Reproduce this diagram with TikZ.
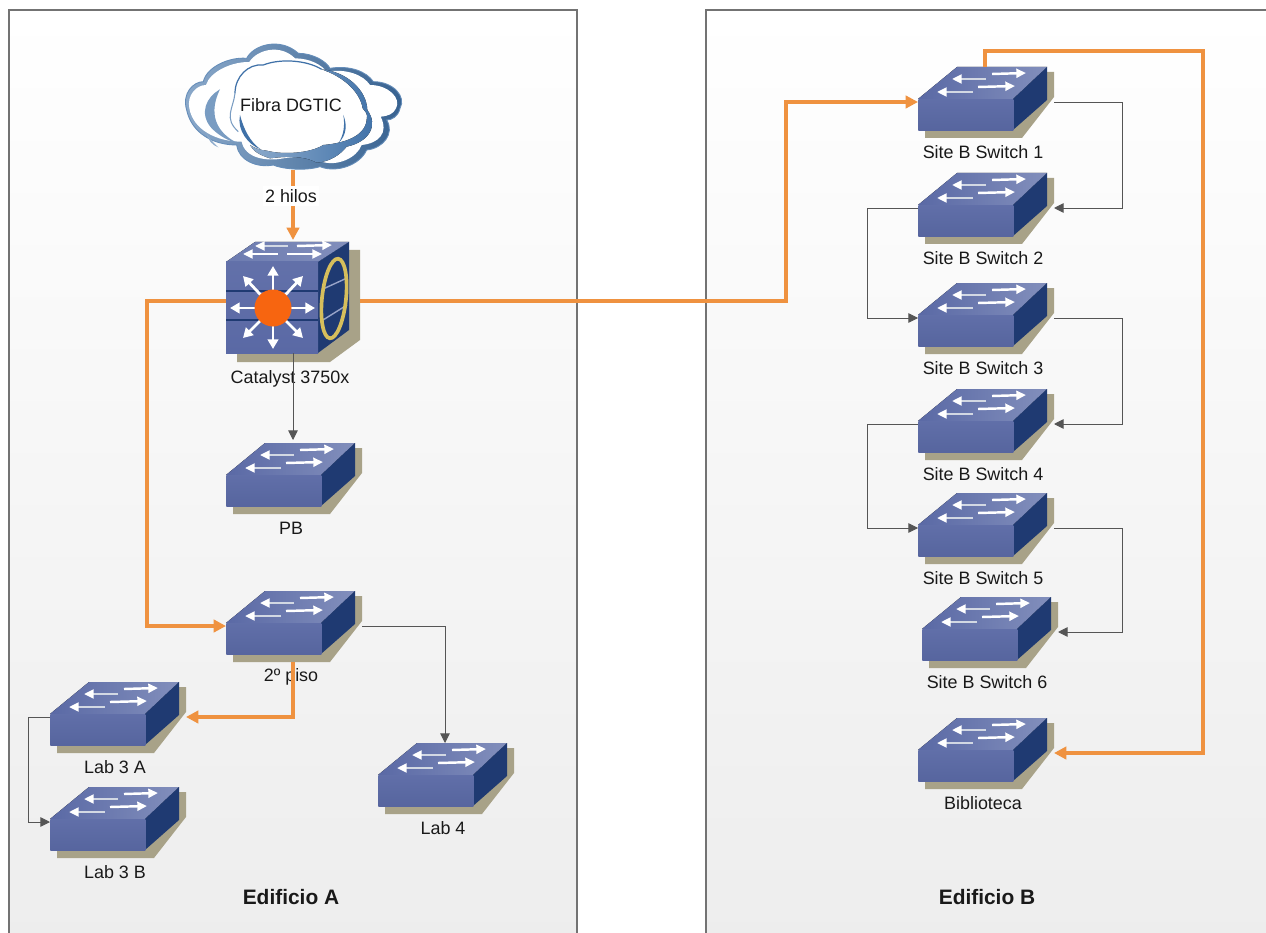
\documentclass[tikz,border=0pt]{standalone}
\usepackage{fontspec}
\setmainfont{Liberation Sans}
\usetikzlibrary{arrows.meta,calc}
\definecolor{swfrontc}{HTML}{5A69A5}
\definecolor{swtopc}{HTML}{6C7BB0}
\definecolor{swsidec}{HTML}{1F3A72}
\definecolor{swshadec}{HTML}{A8A288}
\definecolor{fiberc}{HTML}{EF9240}
\definecolor{copperc}{HTML}{555555}
\definecolor{cloudc}{HTML}{3F71A8}
\tikzset{
  panelbox/.style={draw=black!55,line width=0.6pt,top color=white,bottom color=black!7},
  swlabel/.style={font=\fontsize{10.2}{12}\selectfont,text=black!90},
  fiber/.style={draw=fiberc,line width=1.8pt,-{Triangle[length=7pt,width=7pt]}},
  copper/.style={draw=copperc,line width=0.5pt,-{Triangle[length=5.5pt,width=5.5pt]}},
  swarrow/.style={draw=white,line width=1.4pt,-{Triangle[length=5.5pt,width=5pt]}},
  swarrowb/.style={draw=white!80!swsidec,line width=1.4pt,-{Triangle[length=5.5pt,width=5pt,color=white,fill=white]}},
  hubarrow/.style={draw=white,line width=1.6pt,-{Triangle[length=5.5pt,width=6pt]}},
  swfront/.style={minimum width=95*0.02cm,minimum height=31*0.02cm,anchor=north west,top color=swfrontc!96!white,bottom color=swfrontc!96!black}
}
% one switch: name, left end, label
\newcommand{\switchbox}[4]{
\begin{scope}[shift={(#2,#3)}]
\fill [swshadec] (7,0) -- (7,36) -- (104,36) -- (136,-5) -- (136,-30) -- (120,-30) -- cycle;
\fill [left color=swfrontc,right color=swtopc!85!white] (0,-3) -- (39,-35) -- (129,-35) -- (95,-3) -- cycle;
\fill [swsidec] (129,-35) -- (129,-2) -- (95,28) -- (95,-3) -- cycle;
\node [swfront] (#1) at (0,-3) {};
\coordinate (#1r) at (136,0);
\coordinate (#1t) at (67,-35);
\coordinate (#1b) at (67,36);
\draw [swarrow] (74,-28) -- (108,-29);
\draw [swarrowb] (68,-23) -- (34,-23);
\draw [swarrow] (60,-15) -- (97,-16);
\draw [swarrowb] (55,-10) -- (19,-10);
\node [swlabel] (#1l) at (65,50.5) {#4};
\end{scope}
}
\begin{document}
\begin{tikzpicture}[x=0.02cm,y=-0.02cm]
\tikzstyle{every node}+=[inner sep=0pt]
\useasboundingbox (0,0) rectangle (1266,932);
% panels
\fill [white] (0,0) rectangle (1266,932);
\path [panelbox] (9,10) rectangle (577,940);
\path [panelbox] (706,10) rectangle (1280,940);
% cloud
\begin{scope}[shift={(170,30)},x=0.02cm/3,y=-0.02cm/3]
\path [draw=cloudc!80!white,line width=0.5pt,left color=cloudc!60!white,right color=cloudc!85!black] (50,240) .. controls (35,190) and (70,155) .. (100,155) .. controls (110,110) and (180,80) .. (230,85) .. controls (250,45) and (330,20) .. (385,70) .. controls (430,70) and (470,95) .. (480,115) .. controls (540,105) and (590,125) .. (610,155) .. controls (670,155) and (710,200) .. (690,235) .. controls (685,260) and (665,270) .. (650,270) .. controls (675,310) and (640,355) .. (590,360) .. controls (570,405) and (500,430) .. (450,410) .. controls (400,425) and (330,415) .. (310,405) .. controls (260,415) and (205,390) .. (200,345) .. controls (130,345) and (65,310) .. (50,240) -- cycle;
\fill [white] (58,235) .. controls (50,195) and (80,165) .. (108,165) .. controls (120,125) and (185,95) .. (238,96) .. controls (260,60) and (330,40) .. (375,85) .. controls (420,85) and (455,105) .. (470,125) .. controls (530,115) and (580,135) .. (600,165) .. controls (655,165) and (695,205) .. (678,235) .. controls (670,252) and (655,258) .. (632,260) .. controls (657,310) and (625,340) .. (575,345) .. controls (560,385) and (500,410) .. (455,395) .. controls (440,385) and (400,375) .. (340,385) .. controls (290,395) and (225,385) .. (215,335) .. controls (140,335) and (70,300) .. (58,235) -- cycle;
\fill [left color=cloudc!60!white,right color=cloudc] (455,118) .. controls (530,125) and (590,180) .. (592,240) .. controls (625,285) and (600,335) .. (530,350) .. controls (510,375) and (480,395) .. (440,398) .. controls (400,375) and (340,380) .. (300,385) .. controls (270,375) and (250,365) .. (240,345) .. controls (255,355) and (270,360) .. (290,362) .. controls (340,375) and (420,370) .. (460,345) .. controls (520,340) and (585,320) .. (590,270) .. controls (595,250) and (585,245) .. (578,235) .. controls (570,185) and (520,140) .. (455,118) -- cycle;
\draw [cloudc,line width=0.7pt] (195,190) .. controls (195,140) and (235,100) .. (280,105) .. controls (330,85) and (410,90) .. (455,118);
\draw [cloudc!70!white,line width=0.6pt] (195,190) .. controls (190,235) and (160,265) .. (205,305);
\fill [cloudc!70!white] (150,178) .. controls (110,200) and (85,250) .. (125,295) .. controls (150,320) and (180,335) .. (205,340) .. controls (160,320) and (105,270) .. (150,178) -- cycle;
\fill [cloudc!60!white] (108,308) .. controls (115,330) and (125,345) .. (145,352) .. controls (125,335) and (118,322) .. (108,308) -- cycle;
\fill [cloudc] (210,255) .. controls (200,300) and (235,345) .. (272,358) .. controls (240,335) and (222,300) .. (210,255) -- cycle;
\fill [cloudc] (520,255) .. controls (532,285) and (530,315) .. (505,340) .. controls (522,315) and (525,285) .. (520,255) -- cycle;
\end{scope}
\node [swlabel] (cloud) at (291,105) {Fibra DGTIC};
\coordinate (cloudout) at (293,170);
% core
\fill [swshadec] (237,340) -- (237,362) -- (330,362) -- (360,340) -- (360,250) -- (340,250) -- cycle;
\fill [left color=swtopc,right color=swtopc!85!white] (226,262) -- (255,242) -- (349,242) -- (318,262) -- cycle;
\fill [swsidec] (349,242) -- (349,330) -- (318,353) -- (318,262) -- cycle;
\node [minimum width=92*0.02cm,minimum height=91*0.02cm,top color=swfrontc!95!white,bottom color=swfrontc] (core) at (272,307.5) {};
\coordinate (corer) at (360,301);
\coordinate (corel) at (226,301);
\coordinate (coret) at (293,240);
\coordinate (coreb) at (293,353);
\draw [swsidec,line width=1.2pt] (226,291) -- (318,291);
\draw [swsidec,line width=1.2pt] (226,320) -- (318,320);
\draw [swtopc!70!white,line width=0.8pt] (323,289) -- (347,278);
\draw [swtopc!70!white,line width=0.8pt] (323,320) -- (347,305);
\draw [draw={rgb,255:red,214;green,190;blue,92},line width=2.1pt,rotate around={-6:(334,298.5)}] (334,298.5) ellipse (12 and 40);
\draw [swarrowb] (288,246) -- (255,246);
\draw [swarrow] (297,246) -- (332,245);
\draw [swarrow] (278,254) -- (243,254);
\draw [swarrow] (287,254) -- (322,254);
\draw [hubarrow] (273,308) -- (273,266);
\draw [hubarrow] (273,308) -- (273,349);
\draw [hubarrow] (273,308) -- (230,308);
\draw [hubarrow] (273,308) -- (315,308);
\draw [hubarrow] (273,308) -- (243,276);
\draw [hubarrow] (273,308) -- (303,276);
\draw [hubarrow] (273,308) -- (243,338);
\draw [hubarrow] (273,308) -- (303,338);
\fill [draw=none,fill={rgb,255:red,247;green,101;blue,16}] (273,308) circle (18.5);
% switches
\switchbox{pb}{226}{478}{PB}
\switchbox{piso}{226}{626}{2º piso}
\switchbox{labA}{50}{717}{Lab 3 A}
\switchbox{labB}{50}{822}{Lab 3 B}
\switchbox{labC}{378}{778}{Lab 4}
\switchbox{swa}{918}{102}{Site B Switch 1}
\switchbox{swb}{918}{208}{Site B Switch 2}
\switchbox{swc}{918}{318}{Site B Switch 3}
\switchbox{swd}{918}{424}{Site B Switch 4}
\switchbox{swe}{918}{528}{Site B Switch 5}
\switchbox{swf}{922}{632}{Site B Switch 6}
\switchbox{swg}{918}{753}{Biblioteca}
\node [swlabel] (corelab) at (290,379) {Catalyst 3750x};
\node [font=\bfseries\fontsize{11.9}{14}\selectfont,text=black!90] (tita) at (291,897) {Edificio A};
\node [font=\bfseries\fontsize{11.9}{14}\selectfont,text=black!90] (titb) at (987,897) {Edificio B};
% fibre links
\draw [fiber] (cloudout) -- (coret);
\node [swlabel,fill=white,inner ysep=2pt,inner xsep=1pt] (hilos) at (291,196) {2 hilos};
\draw [fiber] (corel) -- (147,301) -- (147,626) -- ($(piso.north west)+(0,3)$);
\draw [fiber] (corer) -- (786,301) -- (786,102) -- ($(swa.north west)+(0,3)$);
\draw [fiber] (pisob) -- (pisob |- labAr) -- (labAr);
\draw [fiber] (swat) -- (985,51) -- (1203,51) -- (1203,753) -- (swgr);
% copper links
\draw [copper] (coreb) -- (293,440);
\draw [copper] (pisor) -- (445,626) -- (445,743);
\draw [copper] ($(labA.north west)+(0,3)$) -- (28,717) -- (28,822) -- ($(labB.north west)+(0,3)$);
\draw [copper] (swar) -- (1122,102) -- (1122,208) -- (swbr);
\draw [copper] ($(swb.north west)+(0,3)$) -- (867,208) -- (867,318) -- ($(swc.north west)+(0,3)$);
\draw [copper] (swcr) -- (1122,318) -- (1122,424) -- (swdr);
\draw [copper] ($(swd.north west)+(0,3)$) -- (867,424) -- (867,528) -- ($(swe.north west)+(0,3)$);
\draw [copper] (swer) -- (1122,528) -- (1122,632) -- (swfr);
\end{tikzpicture}
\end{document}
